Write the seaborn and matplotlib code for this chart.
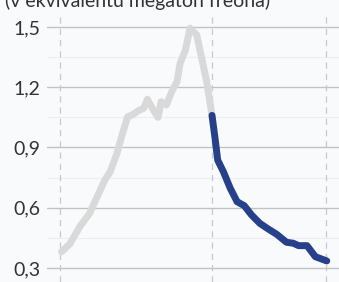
import matplotlib
matplotlib.use("Agg")
import matplotlib.pyplot as plt
import seaborn as sns
import pandas as pd

# data (years, value in megatons equivalent)
past_years = [1990.2, 1991.3, 1992.6, 1993.9, 1994.8, 1995.9, 1996.6, 1997.5,
              1998.1, 1998.9, 1999.5, 2000.3, 2001.0, 2001.5, 2002.3, 2002.9,
              2003.3, 2004.0, 2004.7, 2005.4, 2005.8, 2006.5, 2007.1, 2008.0,
              2008.6, 2009.3, 2010.0]
past_values = [0.38, 0.42, 0.505, 0.572, 0.647, 0.738, 0.779, 0.871,
               0.954, 1.053, 1.062, 1.083, 1.095, 1.14, 1.087, 1.05,
               1.128, 1.112, 1.178, 1.228, 1.319, 1.385, 1.494, 1.46,
               1.352, 1.228, 1.06]

recent_years = [2010.0, 2010.4, 2010.75, 2011.5, 2012.4, 2013.3, 2014.25, 2015.2,
                2016.3, 2017.4, 2018.5, 2019.8, 2020.7, 2021.4, 2022.5, 2023.6,
                2025.1]
recent_values = [1.06, 0.946, 0.837, 0.779, 0.697, 0.63, 0.61, 0.564,
                 0.522, 0.494, 0.468, 0.428, 0.423, 0.411, 0.411, 0.356,
                 0.335]

y_ticks = [0.3, 0.6, 0.9, 1.2, 1.5]
y_labels = ["0,3", "0,6", "0,9", "1,2", "1,5"]
marker_years = [1990, 2010, 2025]
title = "(v ekvivalentu megaton freona)"

past = pd.DataFrame({"year": past_years, "value": past_values})
recent = pd.DataFrame({"year": recent_years, "value": recent_values})

sns.set_theme(style="white")
plt.rcParams["font.family"] = ["Lato", "DejaVu Sans"]

bg = "#f9fafc"
fig = plt.figure(figsize=(3.39, 2.82), dpi=100, facecolor=bg)
ax = fig.add_axes([47 / 339, 0.0, 1 - 47 / 339, 1 - 15 / 282])
ax.set_facecolor(bg)

# faint minor grid, major grid, dashed year markers
for v in [0.45, 0.75, 1.05, 1.35]:
    ax.axhline(v, color="#eceef2", lw=0.8, zorder=0)
for v in y_ticks:
    ax.axhline(v, color="#c2c2c2", lw=1.0, zorder=1)
for yr in marker_years:
    ax.axvline(yr, color="#c9c9c9", lw=0.9, ls=(0, (5, 4)), zorder=1)

sns.lineplot(data=past, x="year", y="value", ax=ax, color="#d9d9d9",
             lw=5, solid_capstyle="round", zorder=3)
sns.lineplot(data=recent, x="year", y="value", ax=ax, color="#27408a",
             lw=5, solid_capstyle="round", zorder=4)

ax.set_xlim(1988.29, 2026.71)
ax.set_ylim(0.23, 1.56)
ax.set_yticks(y_ticks)
ax.set_yticklabels(y_labels, fontsize=14, color="#333333")
ax.set_xticks([])
ax.tick_params(axis="y", length=0, pad=5)
ax.set_xlabel("")
ax.set_ylabel("")
for s in ax.spines.values():
    s.set_visible(False)

fig.text(5 / 339, 1 - 7 / 282, title, fontsize=14, color="#333333",
         ha="left", va="baseline")

fig.savefig("out.png", dpi=100, facecolor=bg)
